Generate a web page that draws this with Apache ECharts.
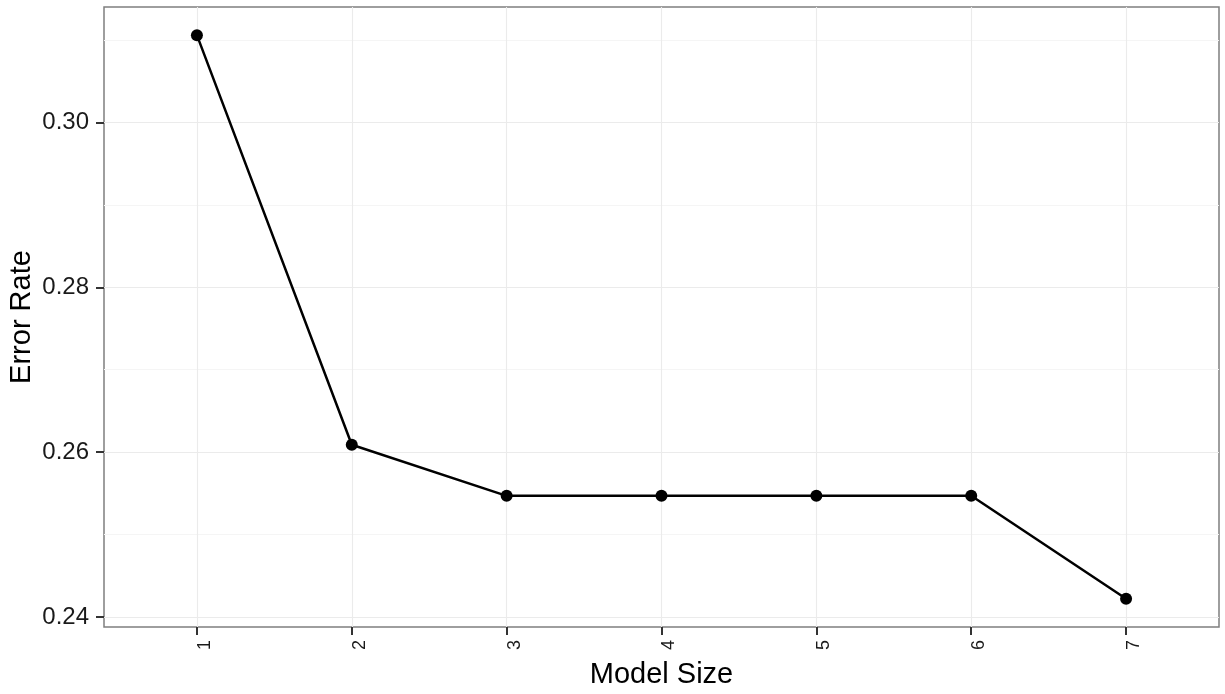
<!DOCTYPE html>
<html>
<head>
<meta charset="utf-8">
<script src="https://cdn.jsdelivr.net/npm/echarts@6/dist/echarts.min.js"></script>
<style>
  html, body { margin: 0; padding: 0; background: #ffffff; }
  #chart { width: 1225px; height: 694px; }
</style>
</head>
<body>
<div id="chart"></div>
<script>
// Cross-validated error rate by model size
const modelSize = [1, 2, 3, 4, 5, 6, 7];
const errorRate = [0.3106, 0.2609, 0.2547, 0.2547, 0.2547, 0.2547, 0.2422];
const yMajorTicks = [0.24, 0.26, 0.28, 0.30];
const yMinorTicks = [0.25, 0.27, 0.29, 0.31];

// ggplot-style limits: 5% padding on the continuous axis, 0.6 units on the discrete one
const yLo = Math.min(...errorRate), yHi = Math.max(...errorRate);
const yPad = (yHi - yLo) * 0.05;
const xMin = modelSize[0] - 0.6, xMax = modelSize[modelSize.length - 1] + 0.6;

const FONT = '"Liberation Sans", Arial, sans-serif';

const chart = echarts.init(document.getElementById('chart'), null, { renderer: 'canvas' });
chart.setOption({
  animation: false,
  backgroundColor: '#ffffff',
  grid: {
    left: 104, right: 6, top: 7, bottom: 67,
    outerBoundsMode: 'none',
    containLabel: false,
    show: true, borderColor: '#7f7f7f', borderWidth: 1.5, backgroundColor: '#ffffff'
  },
  xAxis: {
    type: 'value',
    min: xMin, max: xMax,
    name: 'Model Size',
    nameLocation: 'middle',
    nameGap: 33,
    nameTextStyle: { fontFamily: FONT, fontSize: 29, color: '#000000' },
    axisLine: { show: false },
    axisTick: { show: true, length: 8, customValues: modelSize, lineStyle: { color: '#333333', width: 2 } },
    axisLabel: {
      customValues: modelSize,
      rotate: 90, margin: 13,
      verticalAlign: 'top', lineHeight: 16,
      fontFamily: FONT, fontSize: 18, color: '#1a1a1a',
      formatter: v => String(v)
    },
    splitLine: { show: true, lineStyle: { color: '#ebebeb', width: 1.1 } }
  },
  yAxis: [{
    type: 'value',
    min: yLo - yPad, max: yHi + yPad,
    name: 'Error Rate',
    nameLocation: 'middle',
    nameRotate: 90,
    nameGap: 68,
    nameMoveOverlap: false,
    nameTextStyle: { fontFamily: FONT, fontSize: 29, color: '#000000' },
    axisLine: { show: false },
    axisTick: { show: true, length: 8, customValues: yMajorTicks, lineStyle: { color: '#333333', width: 2 } },
    axisLabel: {
      customValues: yMajorTicks,
      margin: 15,
      fontFamily: FONT, fontSize: 24, color: '#1a1a1a',
      formatter: v => v.toFixed(2)
    },
    splitLine: { show: true, lineStyle: { color: '#ebebeb', width: 1.1 } }
  }, {
    // minor grid lines between the labelled breaks
    type: 'value',
    min: yLo - yPad, max: yHi + yPad,
    position: 'left',
    axisLine: { show: false },
    axisTick: { show: false, customValues: yMinorTicks },
    axisLabel: { show: false, customValues: yMinorTicks },
    splitLine: { show: true, lineStyle: { color: '#f5f5f5', width: 1.1 } }
  }],
  series: [{
    type: 'line',
    yAxisIndex: 0,
    data: modelSize.map((m, i) => [m, errorRate[i]]),
    symbol: 'circle',
    symbolSize: 12,
    lineStyle: { color: '#000000', width: 2.5 },
    itemStyle: { color: '#000000' },
    z: 5
  }]
});
</script>
</body>
</html>
